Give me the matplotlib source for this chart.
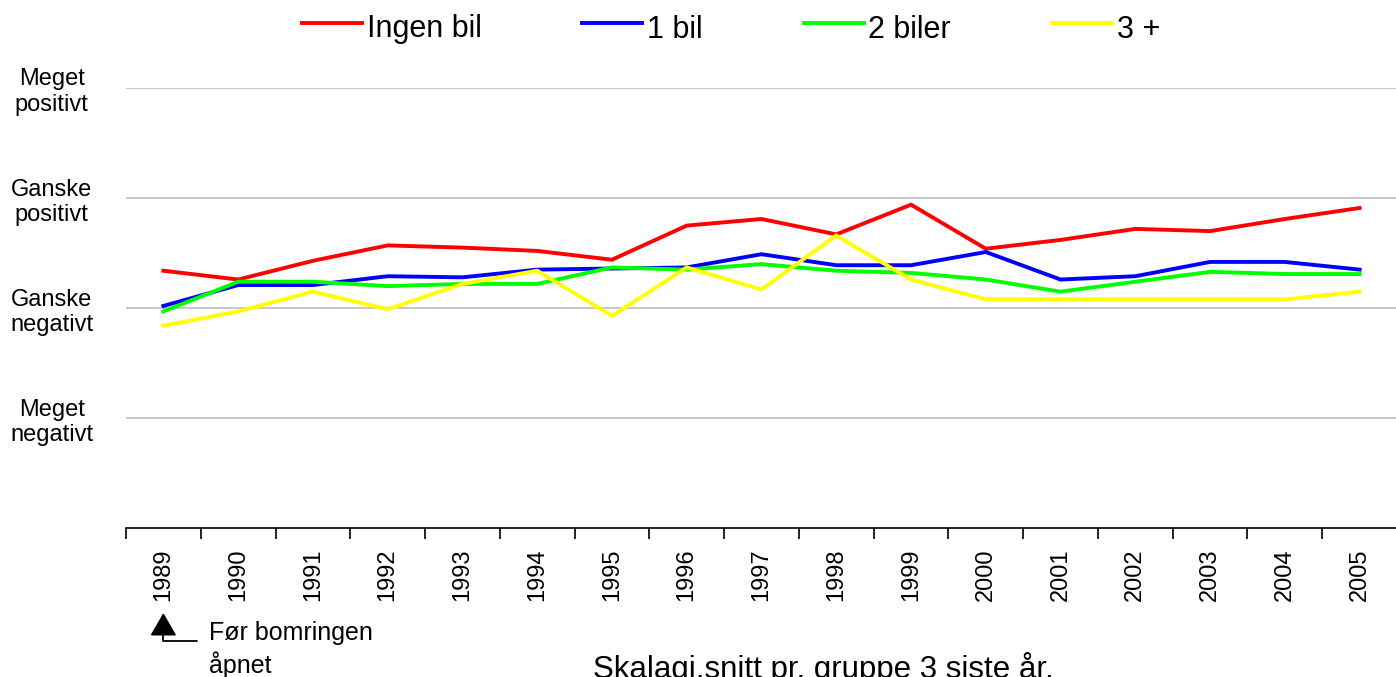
import numpy as np
import matplotlib
matplotlib.use("Agg")
import matplotlib.pyplot as plt

plt.rcParams['font.family'] = ['Liberation Sans', 'DejaVu Sans']

years = [str(y) for y in range(1989, 2006)]

ingen_bil = [2.34, 2.26, 2.43, 2.57, 2.55, 2.52, 2.44, 2.75, 2.81, 2.67, 2.94,
             2.54, 2.62, 2.72, 2.70, 2.81, 2.91]
en_bil = [2.02, 2.21, 2.21, 2.29, 2.28, 2.35, 2.36, 2.37, 2.49, 2.39, 2.39,
          2.51, 2.26, 2.29, 2.42, 2.42, 2.35]
to_biler = [1.97, 2.24, 2.24, 2.20, 2.22, 2.22, 2.37, 2.35, 2.40, 2.34, 2.32,
            2.26, 2.15, 2.24, 2.33, 2.31, 2.31]
tre_pluss = [1.84, 1.97, 2.15, 1.99, 2.22, 2.34, 1.93, 2.37, 2.17, 2.66, 2.26,
             2.08, 2.08, 2.08, 2.08, 2.08, 2.15]

series_names = ['Ingen bil', '1 bil', '2 biler', '3 +']
series_colors = ['#ff0000', '#0000ff', '#00ff00', '#ffff00']

scale_vals = [1, 2, 3, 4]
scale_labels = ['Meget\nnegativt', 'Ganske\nnegativt', 'Ganske\npositivt', 'Meget\npositivt']

W, H = 1396, 677
fig = plt.figure(figsize=(W / 100, H / 100), dpi=100)
ax = fig.add_axes([126 / W, (H - 528.3) / H, 1271 / W, 440.3 / H])

x = np.arange(len(years))
for vals, name, col in zip([ingen_bil, en_bil, to_biler, tre_pluss], series_names, series_colors):
    ax.plot(x, vals, color=col, lw=2.8, label=name, solid_joinstyle='miter')

ax.set_xlim(-0.5, len(years) - 0.5)
ax.set_ylim(0, 4)

# y-axis: scale labels centred left of the plot
ax.set_yticks(scale_vals, labels=scale_labels)
ax.tick_params(axis='y', length=0, pad=53.5, labelsize=17)
for t in ax.get_yticklabels():
    t.set_horizontalalignment('center')
    t.set_multialignment('center')
ax.yaxis.grid(True, color='#c4c4c4', lw=1.3)
ax.set_axisbelow(True)

# x-axis: ticks at category edges, year labels at centres
ax.set_xticks(np.arange(len(years) + 1) - 0.5)
ax.set_xticklabels([])
ax.set_xticks(x, labels=years, minor=True)
ax.tick_params(axis='x', which='major', length=8, width=1.2, direction='out', color='black')
ax.tick_params(axis='x', which='minor', length=0, pad=14.5, labelsize=17, labelrotation=90)

for s in ['top', 'right', 'left']:
    ax.spines[s].set_visible(False)
ax.spines['bottom'].set_linewidth(1.2)

leg = fig.legend(loc='center left', bbox_to_anchor=(302 / W, 1 - 29.5 / H), ncol=4,
                 frameon=False, fontsize=22, borderpad=0, borderaxespad=0,
                 handlelength=1.96, handletextpad=0.16, columnspacing=3.3)
for ln in leg.get_lines():
    ln.set_linewidth(2.8)
    ln.set_ydata(np.array(ln.get_ydata()) + 3)

# note about the toll ring
ax.annotate('', xy=(0, H - 613), xycoords=('data', 'figure pixels'),
            xytext=(197, H - 641), textcoords='figure pixels',
            arrowprops=dict(arrowstyle='-|>,head_length=0.95,head_width=0.55',
                            connectionstyle='angle,angleA=0,angleB=90,rad=0',
                            color='black', lw=1.3, mutation_scale=15,
                            shrinkA=0, shrinkB=0),
            annotation_clip=False)
fig.text(209 / W, (H - 621) / H, 'Før bomringen\nåpnet', fontsize=18,
         va='top', ha='left', linespacing=1.3)

fig.text(593 / W, -1 / H, 'Skalagi.snitt pr. gruppe 3 siste år.', fontsize=22.5,
         va='baseline', ha='left')

fig.savefig('out.png', dpi=100)
